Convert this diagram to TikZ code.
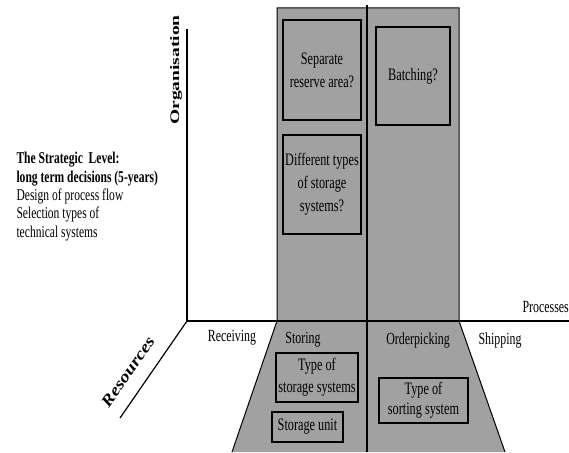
\documentclass[tikz,border=0pt]{standalone}
\usepackage{fontspec}
\setmainfont{Liberation Serif}[FakeStretch=0.7]
\newfontfamily\orgfont{Liberation Serif}[FakeStretch=1.5]
\newfontfamily\resfont{Liberation Serif}[FakeStretch=1.2]
\usetikzlibrary{positioning}
\definecolor{halftone}{gray}{0.63}

\begin{document}
\begin{tikzpicture}[x=1pt,y=-1pt,
    box/.style={draw,line width=1.3pt,align=center,inner sep=0pt,
        font=\fontsize{17.5}{23}\selectfont},
    stage/.style={font=\fontsize{17}{18}\selectfont},
    axis/.style={line width=1.2pt}]
    \useasboundingbox (0,0) rectangle (569,452);

    % shaded area
    \fill[halftone] (277,8) rectangle (459,321);
    \fill[halftone] (277,321) -- (459,321) -- (505,452) -- (232,452) -- cycle;
    \draw[line width=1pt] (277,321) |- (459,8) -- (459,321) -- (505,452);
    \draw[line width=1pt] (277,321) -- (232,452);
    \draw[line width=1.1pt] (367,5) -- (367,452);

    % axes
    \coordinate (O) at (187,321);
    \coordinate (orgtop) at (187,29);
    \coordinate (proend) at (569,321);
    \coordinate (resend) at (120,418);
    \draw[axis] (orgtop) -- (O) -- (proend);
    \draw[axis] (O) -- (resend);

    \node[rotate=90,font=\orgfont\bfseries\fontsize{13}{13}\selectfont] (org) at (176,70) {Organisation};
    \node[rotate=55,font=\resfont\bfseries\itshape\fontsize{16}{16}\selectfont] (res) at (128,372) {Resources};
    \node[stage,anchor=east,inner sep=0pt] (proc) at (569,307) {Processes};

    % stages
    \node[stage] (recv) at (232,338) {Receiving};
    \node[stage] (stor) at (303,340) {Storing};
    \node[stage] (pick) at (418,340) {Orderpicking};
    \node[stage] (ship) at (500,340) {Shipping};

    % decisions
    \node[box,minimum width=78,minimum height=100] (reserve) at (322,70) {Separate\\reserve area?};
    \node[box,minimum width=78,minimum height=99] (types) at (322,184.5) {Different types\\of storage\\systems?};
    \node[box,minimum width=74,minimum height=98] (batch) at (413,76) {Batching?};
    \node[box,minimum width=82,minimum height=49,font=\fontsize{17.5}{22}\selectfont] (sys) at (317,377.5) {Type of\\storage systems};
    \node[box,minimum width=71,minimum height=30] (unit) at (307.5,427) {Storage unit};
    \node[box,minimum width=89,minimum height=45,font=\fontsize{17.5}{20}\selectfont] (sort) at (423.5,400.5) {Type of\\sorting system};

    \node[anchor=west,align=left,font=\fontsize{16.5}{18.3}\selectfont] (level) at (13,196.5)
        {\textbf{The Strategic\ \ Level:}\\\textbf{long term decisions (5-years)}\\Design of process flow\\Selection types of\\technical systems};
\end{tikzpicture}
\end{document}
